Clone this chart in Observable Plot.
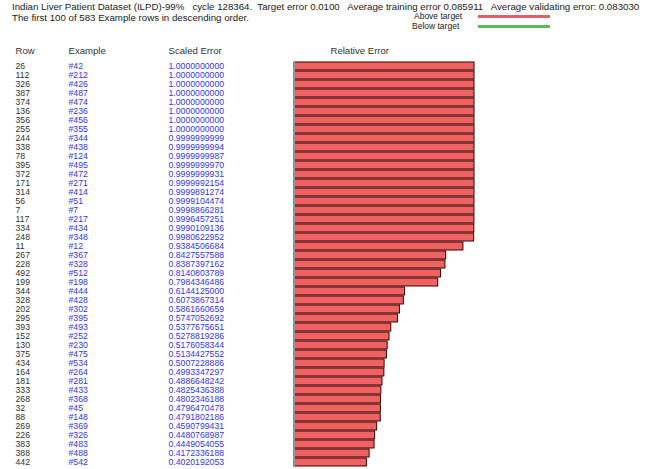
<!DOCTYPE html>
<html><head><meta charset="utf-8">
<script src="https://cdn.jsdelivr.net/npm/d3@7"></script>
<script src="https://cdn.jsdelivr.net/npm/@observablehq/plot@0.6"></script>
<style>
body{margin:0;overflow:hidden;background:#fff;font-family:"Liberation Sans",Arial,sans-serif;color:#222;}
#head{position:relative;height:36px;}
#head div{position:absolute;white-space:pre;}
.t{font-size:9.7px;line-height:10px;}
.lg{font-size:8.5px;line-height:9px;}
.ln{position:absolute;height:3px;}
</style></head><body>
<div id="head">
  <div class="t" style="left:12px;top:1.5px">Indian Liver Patient Dataset (ILPD)-99%   cycle 128364.  Target error 0.0100   Average training error 0.085911   Average validating error: 0.083030</div>
  <div class="t" style="left:12px;top:13px">The first 100 of 583 Example rows in descending order.</div>
  <div class="lg" style="left:414px;top:11.5px">Above target</div>
  <div class="lg" style="left:412px;top:21.5px">Below target</div>
  <span class="ln" style="left:478px;top:14.5px;width:72px;background:#e0606e"></span>
  <span class="ln" style="left:478px;top:24.5px;width:72px;background:#5cb85c"></span>
</div>
<div id="chart"></div>
<script>
const rowNumbers = [26,112,326,387,374,136,356,255,244,338,78,395,372,171,314,56,7,117,334,248,11,267,228,492,199,344,328,202,295,393,152,130,375,434,164,181,333,268,32,88,269,226,383,388,442];
const examples = ["#42","#212","#426","#487","#474","#236","#456","#355","#344","#438","#124","#495","#472","#271","#414","#51","#7","#217","#434","#348","#12","#367","#328","#512","#198","#444","#428","#302","#395","#493","#252","#230","#475","#534","#264","#281","#433","#368","#45","#148","#369","#326","#483","#488","#542"];
const scaledErrors = ["1.0000000000","1.0000000000","1.0000000000","1.0000000000","1.0000000000","1.0000000000","1.0000000000","1.0000000000","0.9999999999","0.9999999994","0.9999999987","0.9999999970","0.9999999931","0.9999992154","0.9999891274","0.9999104474","0.9998866281","0.9996457251","0.9990109136","0.9980622952","0.9384506684","0.8427557588","0.8387397162","0.8140803789","0.7984346486","0.6144125000","0.6073867314","0.5861660659","0.5747052692","0.5377675651","0.5278819286","0.5176058344","0.5134427552","0.5007228886","0.4993347297","0.4886648242","0.4825436388","0.4802346188","0.4796470478","0.4791802186","0.4590799431","0.4480768987","0.4449054055","0.4172336188","0.4020192053"];
const headers = ["Row","Example","Scaled Error","Relative Error"];

const data = rowNumbers.map((r,i)=>({i, row:String(r), ex:examples[i], label:scaledErrors[i], val:+scaledErrors[i]}));
const n = data.length;
const step = 9.045;
const marginTop = 24.5, marginBottom = 4;
const font = "'Liberation Sans', Arial, sans-serif";
const hdr = (t, dx) => Plot.text([t], {frameAnchor:"top-left", dx, dy:-13.5, text:d=>d, textAnchor:"start", fill:"#333", fontSize:9.6});

const chart = Plot.plot({
  width: 646,
  height: marginTop + n*step + marginBottom,
  marginLeft: 294, marginRight: 172, marginTop, marginBottom,
  x: {domain:[0,1], axis:null},
  y: {domain: d3.range(n), axis:null, paddingInner:0.12, paddingOuter:0.06},
  style: {fontFamily: font, fontSize:"8.7px", overflow:"visible", background:"#fff"},
  marks: [
    Plot.barX(data, {x:"val", y:"i", fill:"#f06262", stroke:"#3a0000", strokeWidth:1}),
    Plot.ruleX([0], {stroke:"#999"}),
    Plot.text(data, {y:"i", frameAnchor:"left", dx:-279, text:"row", textAnchor:"start", fill:"#333"}),
    Plot.text(data, {y:"i", frameAnchor:"left", dx:-226, text:"ex", textAnchor:"start", fill:"#3535f0"}),
    Plot.text(data, {y:"i", frameAnchor:"left", dx:-126, text:"label", textAnchor:"start", fill:"#3535f0"}),
    hdr(headers[0], -279),
    hdr(headers[1], -226),
    hdr(headers[2], -126),
    hdr(headers[3], 36)
  ]
});
document.getElementById("chart").appendChild(chart);
</script>
</body></html>
